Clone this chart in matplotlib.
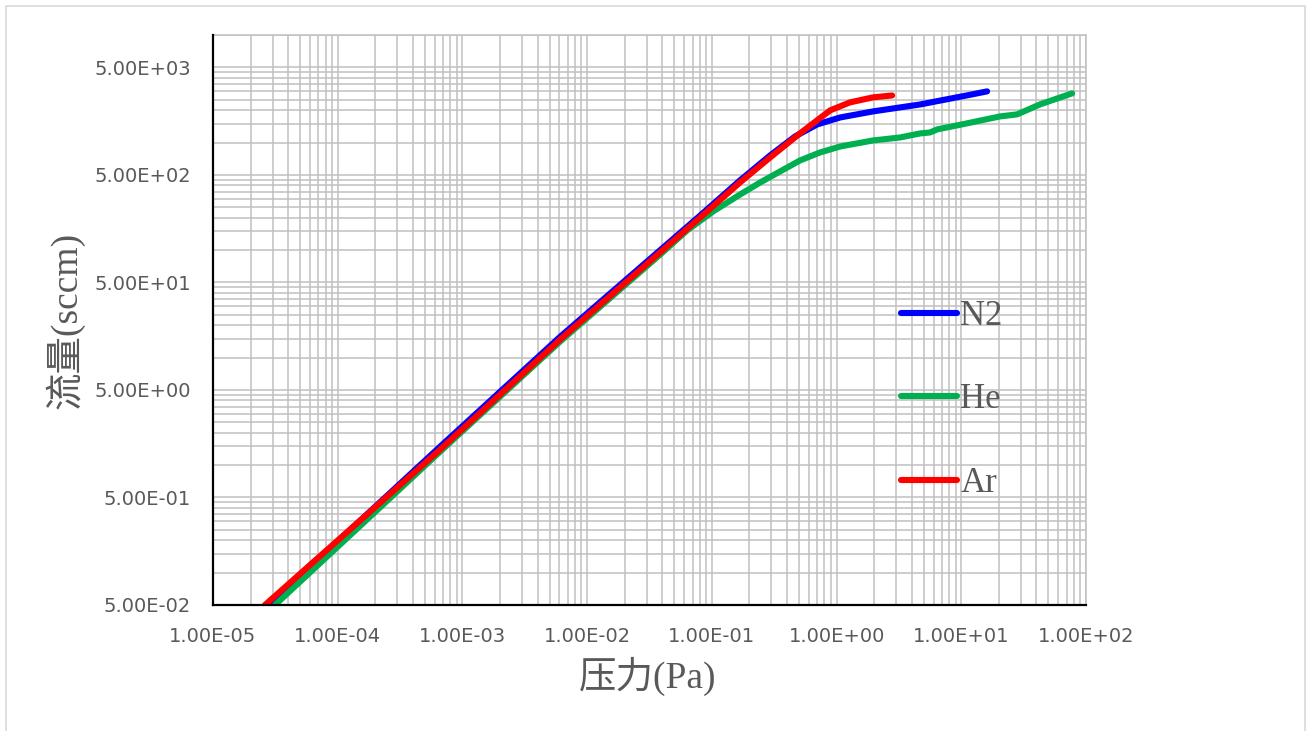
import matplotlib
matplotlib.use("Agg")
import matplotlib.pyplot as plt
from matplotlib.ticker import FixedLocator, NullFormatter, FixedFormatter
from matplotlib.patches import Rectangle
from matplotlib.lines import Line2D

# ---------------- data ----------------
n2_p = [2.81e-5, 6.6e-4, 6.07e-3, 0.0804, 0.168, 0.293, 0.465, 0.698, 1.07, 1.96, 4.68, 11.1, 16.1]
n2_q = [0.05, 1.48, 15.6, 209, 444, 758, 1140, 1472, 1711, 1947, 2260, 2743, 2990]

he_p = [3.14e-5, 6.6e-4, 6.07e-3, 0.0385, 0.0632, 0.102, 0.168, 0.244, 0.352, 0.509, 0.738,
        1.07, 1.96, 3.23, 4.68, 5.62, 6.40, 11.1, 20.5, 28.0, 42.9, 77.4]
he_q = [0.05, 1.33, 14.1, 90.8, 152, 228, 328, 425, 538, 681, 809,
        919, 1045, 1115, 1215, 1241, 1324, 1507, 1750, 1827, 2265, 2866]

ar_p = [2.61e-5, 6.6e-4, 6.07e-3, 0.0804, 0.168, 0.293, 0.509, 0.887, 1.28, 1.96, 2.79]
ar_q = [0.05, 1.39, 14.7, 200, 425, 726, 1216, 1990, 2362, 2630, 2740]

series_names = ["N2", "He", "Ar"]
series_colors = ["#0000FF", "#00B050", "#FF0000"]

x_ticks = [1e-5, 1e-4, 1e-3, 1e-2, 1e-1, 1e0, 1e1, 1e2]
x_tick_labels = ["1.00E-05", "1.00E-04", "1.00E-03", "1.00E-02",
                 "1.00E-01", "1.00E+00", "1.00E+01", "1.00E+02"]
y_ticks = [5e-2, 5e-1, 5e0, 5e1, 5e2, 5e3]
y_tick_labels = ["5.00E-02", "5.00E-01", "5.00E+00", "5.00E+01", "5.00E+02", "5.00E+03"]

x_label = "压力(Pa)"
y_label = "流量(sccm)"

# ---------------- figure ----------------
W, H = 1312, 731
fig = plt.figure(figsize=(W / 100, H / 100), dpi=100)
fig.patch.set_facecolor("white")

# outer chart-area border
fig.add_artist(Rectangle((6 / W, -0.01), (1305 - 6) / W, 1 - 6 / H + 0.01,
                         transform=fig.transFigure, fill=False,
                         edgecolor="#d9d9d9", linewidth=1.2))

left, right, top, bottom = 213, 1086, 35, 605
ax = fig.add_axes([left / W, 1 - bottom / H, (right - left) / W, (bottom - top) / H])
ax.set_xscale("log")
ax.set_yscale("log")
ax.set_xlim(1e-5, 1e2)
ax.set_ylim(5e-2, 1e4)

grid_c = "#c0c0c0"
ax.xaxis.set_major_locator(FixedLocator(x_ticks))
ax.xaxis.set_major_formatter(FixedFormatter(x_tick_labels))
xminor = [k * 10.0 ** e for e in range(-5, 2) for k in range(2, 10)]
ax.xaxis.set_minor_locator(FixedLocator(xminor))
ax.xaxis.set_minor_formatter(NullFormatter())

ax.yaxis.set_major_locator(FixedLocator(y_ticks))
ax.yaxis.set_major_formatter(FixedFormatter(y_tick_labels))
yminor = [k * t for t in y_ticks for k in range(2, 10) if k * t <= 1e4 * 1.0001]
ax.yaxis.set_minor_locator(FixedLocator(yminor))
ax.yaxis.set_minor_formatter(NullFormatter())

ax.grid(True, which="both", color=grid_c, linewidth=1.1)
ax.set_axisbelow(True)
ax.tick_params(which="both", length=0)
ax.tick_params(axis="x", pad=16, labelsize=14, labelcolor="#595959")
ax.tick_params(axis="y", pad=16, labelsize=14, labelcolor="#595959")
for lab in ax.get_xticklabels() + ax.get_yticklabels():
    lab.set_fontfamily("DejaVu Sans")

for s in ["top", "right"]:
    ax.spines[s].set_color(grid_c)
    ax.spines[s].set_linewidth(1.1)
for s in ["left", "bottom"]:
    ax.spines[s].set_color("black")
    ax.spines[s].set_linewidth(1.6)
    ax.spines[s].set_zorder(5)

LW = 4.4
xs = [n2_p, he_p, ar_p]
ys = [n2_q, he_q, ar_q]
for px, qy, c, n in zip(xs, ys, series_colors, series_names):
    ax.plot(px, qy, color=c, linewidth=LW, solid_capstyle="round",
            solid_joinstyle="round", label=n, zorder=3, clip_on=True)

lab_font = ["Liberation Serif", "Noto Sans CJK SC"]
ax.set_xlabel(x_label, fontsize=27, color="#595959", family=lab_font)
ax.set_ylabel(y_label, fontsize=27, color="#595959", family=lab_font)
ax.xaxis.set_label_coords((648 - left) / (right - left), -(676 - bottom) / (bottom - top))
ax.xaxis.label.set_va("center")
ax.yaxis.set_label_coords(-(left - 65) / (right - left), (bottom - 320) / (bottom - top))
ax.yaxis.label.set_va("center")

handles = [Line2D([], [], color=c, linewidth=LW, solid_capstyle="round") for c in series_colors]
leg = fig.legend(handles, series_names, loc="center left",
                 bbox_to_anchor=(884 / W, 1 - 400 / H),
                 frameon=False, handlelength=1.6, handletextpad=0.1,
                 labelspacing=1.46, borderpad=0,
                 prop={"family": "Liberation Serif", "size": 25})
for t in leg.get_texts():
    t.set_color("#595959")

fig.savefig("out.png", dpi=100, facecolor="white")
